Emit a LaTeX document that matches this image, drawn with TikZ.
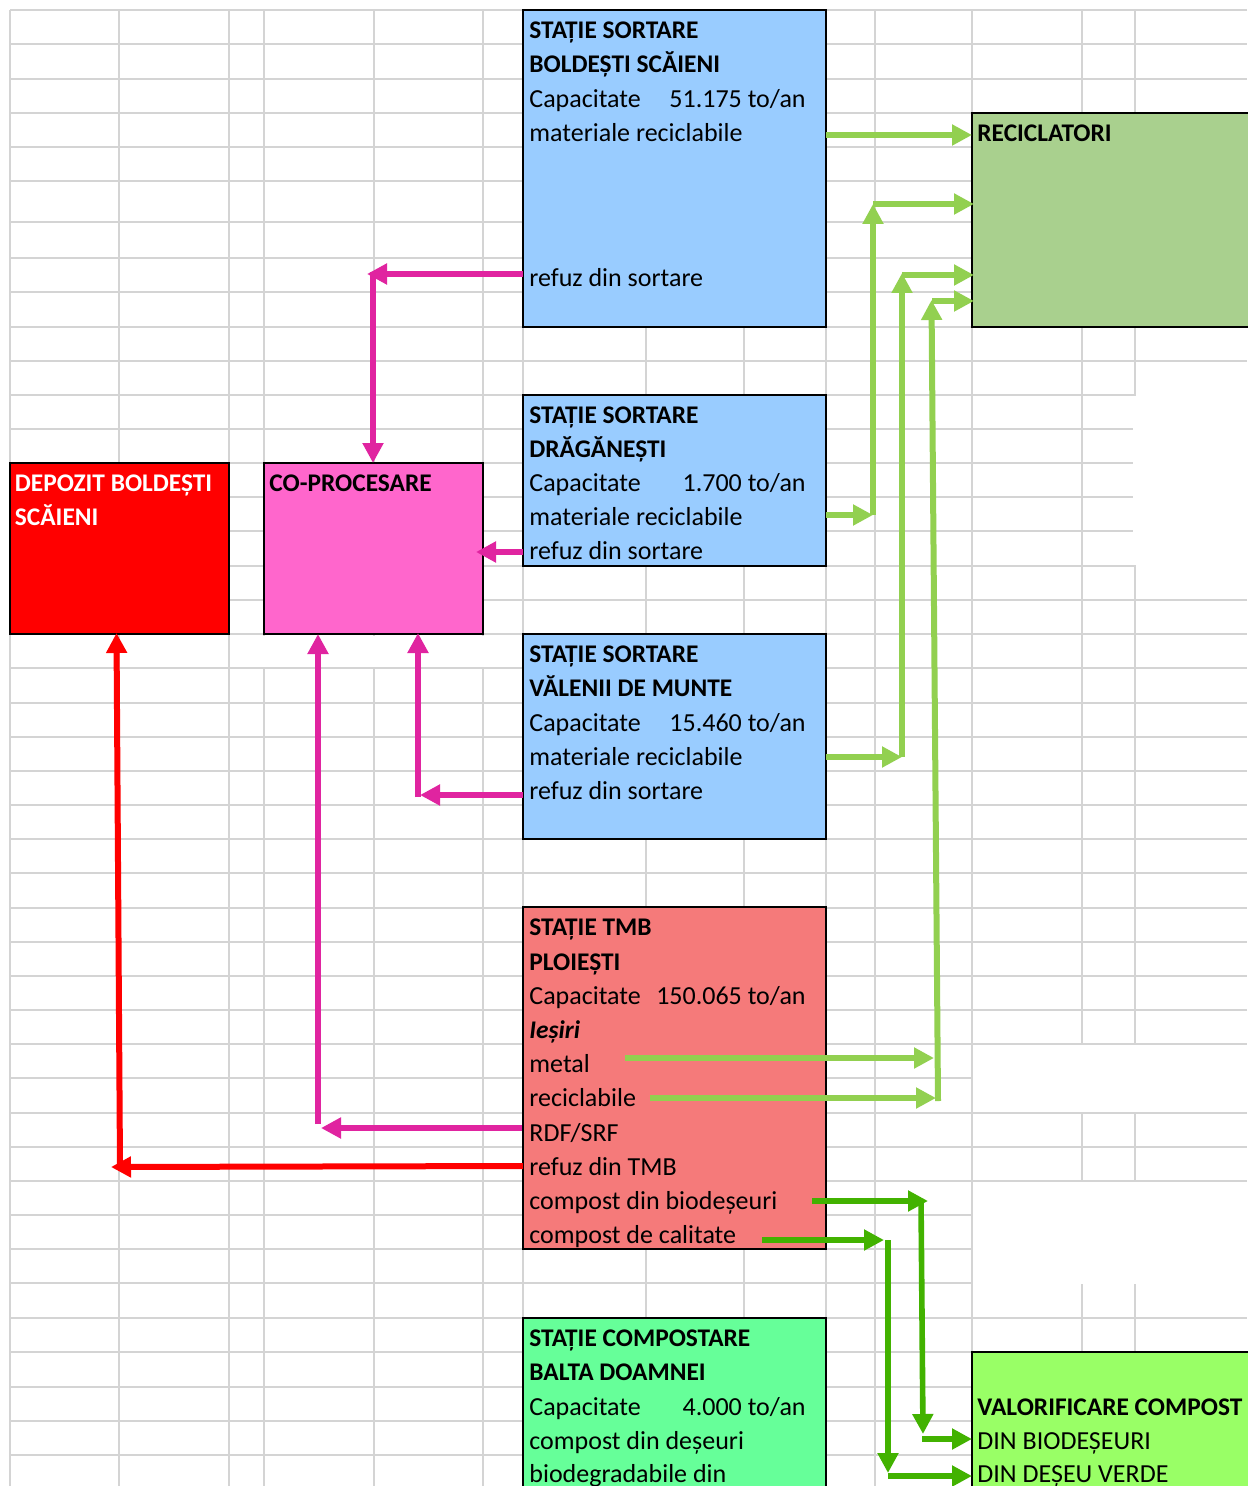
\documentclass[tikz,border=0pt]{standalone}
\usepackage{fontspec}
\setmainfont{Carlito}
\usetikzlibrary{arrows.meta}
\definecolor{gridc}{RGB}{212,212,212}
\definecolor{bluebox}{RGB}{153,204,255}
\definecolor{recbox}{RGB}{169,208,142}
\definecolor{copbox}{RGB}{255,102,204}
\definecolor{tmbbox}{RGB}{245,122,122}
\definecolor{cmpbox}{RGB}{102,255,153}
\definecolor{valbox}{RGB}{153,255,102}
\definecolor{lgreen}{RGB}{146,208,80}
\definecolor{dgreen}{RGB}{66,178,0}
\definecolor{mag}{RGB}{224,36,160}
\definecolor{redc}{RGB}{255,0,0}
\newcommand{\myfs}{\fontsize{13}{15}\selectfont}
\newcommand{\mybfs}{\fontsize{12.7}{15}\selectfont}
\begin{document}
\begin{tikzpicture}[x=0.5pt,y=-0.5pt,
  gridl/.style={draw=gridc,line width=1pt},
  box/.style={draw=black,line width=1pt,anchor=north west,inner sep=0pt,outer sep=0pt},
  txt/.style={anchor=base west,inner sep=0pt,font=\myfs},
  bt/.style={anchor=base west,inner sep=0pt,font=\mybfs\bfseries},
  num/.style={anchor=base east,inner sep=0pt,font=\myfs},
  tipp/.style={-{Triangle[length=10pt,width=10pt]}},
  lga/.style={tipp,draw=lgreen,line width=3pt},
  dga/.style={tipp,draw=dgreen,line width=2.8pt},
  mga/.style={tipp,draw=mag,line width=2.6pt},
  rda/.style={tipp,draw=redc,line width=3pt}]
\useasboundingbox (0,0) rectangle (1247,1486);
\fill[white] (0,0) rectangle (1247,1486);
% grid
\foreach \y in {10,44,79,113,147,181,222,258,292,327,361,395,429,463,497,531,566,600,634,668,703,737,771,805,839,873,908,942,976,1010,1044,1078,1113,1147,1181,1215,1249,1283,1318,1352,1387,1421,1455}
  \draw[gridl] (10,\y) -- (1247,\y);
\foreach \x in {10,119,229,264,374,483,523,646,744,826,875,972,1082,1135}
  \draw[gridl] (\x,10) -- (\x,1486);
% cells without borders
\fill[white] (1136,362) rectangle (1248,599);
\fill[white] (1133,396) rectangle (1137,565);
\fill[white] (973,1045) rectangle (1248,1112);
\fill[white] (973,1182) rectangle (1248,1284);
\fill[white] (263,636) rectangle (521,667);
% boxes
\node[box,fill=bluebox,minimum width=151.5pt,minimum height=158.5pt] (b1) at (523,10) {};
\node[box,fill=recbox,minimum width=150pt,minimum height=107pt] (rec) at (972,113) {};
\node[box,fill=bluebox,minimum width=151.5pt,minimum height=85.5pt] (b2) at (523,395) {};
\node[box,fill=redc,minimum width=109.5pt,minimum height=85.5pt] (dep) at (10,463) {};
\node[box,fill=copbox,minimum width=109.5pt,minimum height=85.5pt] (cop) at (264,463) {};
\node[box,fill=bluebox,minimum width=151.5pt,minimum height=102.5pt] (b3) at (523,634) {};
\node[box,fill=tmbbox,minimum width=151.5pt,minimum height=171pt] (tmb) at (523,907) {};
\node[box,fill=cmpbox,minimum width=151.5pt,minimum height=100pt] (cmp) at (523,1318) {};
\node[box,fill=valbox,minimum width=150pt,minimum height=80pt] (val) at (972,1352) {};
% texts box 1
\node[bt] (b1a) at (529,38.5) {STAȚIE SORTARE};
\node[bt] (b1b) at (529,72.5) {BOLDEȘTI SCĂIENI};
\node[txt] (b1c) at (529,107.5) {Capacitate};
\node[num] (b1d) at (806,107.5) {51.175 to/an};
\node[txt] (b1e) at (529,141.5) {materiale reciclabile};
\node[txt] (b1f) at (529,286.5) {refuz din sortare};
% reciclatori
\node[bt] (reca) at (977,141.5) {RECICLATORI};
% box 2
\node[bt] (b2a) at (529,423.5) {STAȚIE SORTARE};
\node[bt] (b2b) at (529,457.5) {DRĂGĂNEȘTI};
\node[txt] (b2c) at (529,491.5) {Capacitate};
\node[num] (b2d) at (806,491.5) {1.700 to/an};
\node[txt] (b2e) at (529,525.5) {materiale reciclabile};
\node[txt] (b2f) at (529,559.5) {refuz din sortare};
% depozit, co-procesare
\node[bt,text=white] (depa) at (14.5,491.5) {DEPOZIT BOLDEȘTI};
\node[bt,text=white] (depb) at (14.5,525.5) {SCĂIENI};
\node[bt] (copa) at (269,491.5) {CO-PROCESARE};
% box 3
\node[bt] (b3a) at (529,662.5) {STAȚIE SORTARE};
\node[bt] (b3b) at (529,696.5) {VĂLENII DE MUNTE};
\node[txt] (b3c) at (529,731.5) {Capacitate};
\node[num] (b3d) at (806,731.5) {15.460 to/an};
\node[txt] (b3e) at (529,765.5) {materiale reciclabile};
\node[txt] (b3f) at (529,799.5) {refuz din sortare};
% TMB
\node[bt] (tma) at (529,935.5) {STAȚIE TMB};
\node[bt] (tmb2) at (529,970.5) {PLOIEȘTI};
\node[txt] (tmc) at (529,1004.5) {Capacitate};
\node[num] (tmd) at (806,1004.5) {150.065 to/an};
\node[txt,font=\mybfs\bfseries\itshape] (tme) at (529,1038.5) {Ieșiri};
\node[txt] (tmf) at (529,1072.5) {metal};
\node[txt] (tmg) at (529,1106.5) {reciclabile};
\node[txt] (tmh) at (529,1141.5) {RDF/SRF};
\node[txt] (tmi) at (529,1175.5) {refuz din TMB};
\node[txt] (tmj) at (529,1209.5) {compost din biodeșeuri};
\node[txt] (tmk) at (529,1243.5) {compost de calitate};
% compostare
\node[bt] (cma) at (529,1346.5) {STAȚIE COMPOSTARE};
\node[bt] (cmb) at (529,1380.5) {BALTA DOAMNEI};
\node[txt] (cmc) at (529,1415.5) {Capacitate};
\node[num] (cmd) at (806,1415.5) {4.000 to/an};
\node[txt] (cme) at (529,1449.5) {compost din deșeuri};
\node[txt] (cmf) at (529,1482.5) {biodegradabile din};
% valorificare
\node[bt] (vala) at (977,1415.5) {VALORIFICARE COMPOST};
\node[txt] (valb) at (977,1449.5) {DIN BIODEȘEURI};
\node[txt] (valc) at (977,1482.5) {DIN DEȘEU VERDE};
% coordinates for connectors
\coordinate (a1s) at (826,135); \coordinate (a1e) at (972,135);
\coordinate (a2s) at (826,515); \coordinate (a2k) at (873,515);
\coordinate (a2t) at (873,204); \coordinate (a2e) at (974,204);
\coordinate (a3s) at (826,757); \coordinate (a3k) at (902,757);
\coordinate (a3t) at (902,273); \coordinate (a3u) at (902,275); \coordinate (a3e) at (974,275);
\coordinate (a4s) at (625,1058); \coordinate (a4k) at (934,1058);
\coordinate (a5s) at (650,1098); \coordinate (a5k) at (936,1098);
\coordinate (a5b) at (938,1101); \coordinate (a5t) at (931.5,300);
\coordinate (a5u) at (932,301); \coordinate (a5e) at (974,301);
\coordinate (g1s) at (812,1201); \coordinate (g1k) at (928,1201);
\coordinate (g1b) at (921,1199); \coordinate (g1t) at (923,1434);
\coordinate (g1u) at (922,1439); \coordinate (g1e) at (972,1439);
\coordinate (g2s) at (762,1240); \coordinate (g2k) at (884,1240);
\coordinate (g2b) at (888,1240); \coordinate (g2t) at (888,1473);
\coordinate (g2u) at (888,1476); \coordinate (g2e) at (972,1476);
\coordinate (m1s) at (523,274); \coordinate (m1k) at (367,274);
\coordinate (m1b) at (373,272); \coordinate (m1e) at (373,463);
\coordinate (m2s) at (523,552); \coordinate (m2e) at (476,552);
\coordinate (m3s) at (523,795); \coordinate (m3k) at (420,795);
\coordinate (m3b) at (418,797); \coordinate (m3e) at (418,633);
\coordinate (m4s) at (522,1128); \coordinate (m4k) at (321,1128);
\coordinate (m4b) at (318,1124); \coordinate (m4e) at (318,634);
\coordinate (r1s) at (523,1166); \coordinate (r1k) at (111,1167);
\coordinate (r1b) at (120,1167); \coordinate (r1e) at (116.5,633);
% light green
\draw[lga] (a1s) -- (a1e);
\draw[lga] (a2s) -- (a2k);
\draw[lga] (a2k) -- (a2t);
\draw[lga] (a2t) -- (a2e);
\draw[lga] (a3s) -- (a3k);
\draw[lga] (a3k) -- (a3t);
\draw[lga] (a3u) -- (a3e);
\draw[lga] (a4s) -- (a4k);
\draw[lga] (a5s) -- (a5k);
\draw[lga] (a5b) -- (a5t);
\draw[lga] (a5u) -- (a5e);
% dark green
\draw[dga] (g1s) -- (g1k);
\draw[dga] (g1b) -- (g1t);
\draw[dga] (g1u) -- (g1e);
\draw[dga] (g2s) -- (g2k);
\draw[dga] (g2b) -- (g2t);
\draw[dga] (g2u) -- (g2e);
% magenta
\draw[mga] (m1s) -- (m1k);
\draw[mga] (m1b) -- (m1e);
\draw[mga] (m2s) -- (m2e);
\draw[mga] (m3s) -- (m3k);
\draw[mga] (m3b) -- (m3e);
\draw[mga] (m4s) -- (m4k);
\draw[mga] (m4b) -- (m4e);
% red
\draw[rda] (r1s) -- (r1k);
\draw[rda] (r1b) -- (r1e);
\end{tikzpicture}
\end{document}
